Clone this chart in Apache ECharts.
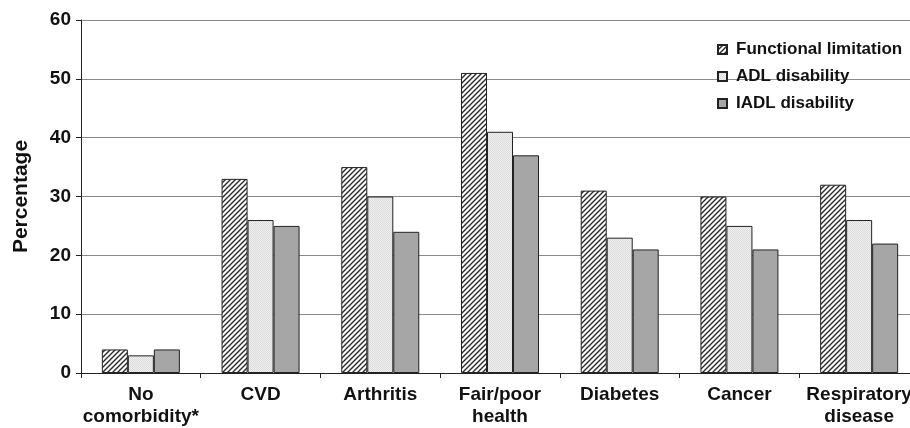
<!DOCTYPE html>
<html><head><meta charset="utf-8">
<script src="https://cdn.jsdelivr.net/npm/echarts@6/dist/echarts.min.js"></script>
<style>html,body{margin:0;padding:0;background:#fff}#c{width:910px;height:428px}</style>
</head><body><div id="c"></div>
<script>
const categories = ['No\ncomorbidity*', 'CVD', 'Arthritis', 'Fair/poor\nhealth', 'Diabetes', 'Cancer', 'Respiratory\ndisease'];
const functionalLimitation = [4, 33, 35, 51, 31, 30, 32];
const adlDisability = [3, 26, 30, 41, 23, 25, 26];
const iadlDisability = [4, 25, 24, 37, 21, 21, 22];
const seriesNames = ['Functional limitation', 'ADL disability', 'IADL disability'];

function hatch() {
  const s = 5, c = document.createElement('canvas');
  c.width = s; c.height = s;
  const g = c.getContext('2d');
  g.fillStyle = '#fff'; g.fillRect(0, 0, s, s);
  g.strokeStyle = '#2a2a2a'; g.lineWidth = 1.4;
  g.beginPath();
  g.moveTo(-1, s + 1); g.lineTo(s + 1, -1);
  g.moveTo(-1, 1); g.lineTo(1, -1);
  g.moveTo(s - 1, s + 1); g.lineTo(s + 1, s - 1);
  g.stroke();
  return c;
}
function dots() {
  const c = document.createElement('canvas');
  c.width = 2; c.height = 2;
  const g = c.getContext('2d');
  g.fillStyle = '#efefef'; g.fillRect(0, 0, 2, 2);
  g.fillStyle = '#dcdcdc'; g.fillRect(0, 0, 1, 1); g.fillRect(1, 1, 1, 1);
  return c;
}
const chart = echarts.init(document.getElementById('c'), null, {renderer: 'canvas'});
const bar = (name, data, color) => ({
  name, type: 'bar', data, barWidth: 26, barGap: '0%',
  itemStyle: {color, borderColor: '#222', borderWidth: 1}
});
chart.setOption({
  animation: false,
  backgroundColor: '#fff',
  grid: {left: 81, top: 20, height: 353, width: 838, outerBoundsMode: 'none', containLabel: false},
  legend: {
    orient: 'vertical', left: 712, top: 36, itemWidth: 9, itemHeight: 9, itemGap: 10,
    icon: 'rect',
    textStyle: {fontFamily: 'Liberation Sans, Arial', fontWeight: 'bold', fontSize: 17, color: '#111', padding: [0, 0, 0, 4]},
    data: seriesNames
  },
  xAxis: {
    type: 'category', data: categories,
    axisLine: {lineStyle: {color: '#222', width: 1}},
    axisTick: {show: true, length: 5, lineStyle: {color: '#222'}},
    axisLabel: {interval: 0, margin: 11, color: '#111', fontFamily: 'Liberation Sans, Arial', fontWeight: 'bold', fontSize: 19, lineHeight: 22}
  },
  yAxis: {
    type: 'value', min: 0, max: 60, interval: 10,
    name: 'Percentage', nameLocation: 'middle', nameGap: 49,
    nameTextStyle: {fontFamily: 'Liberation Sans, Arial', fontWeight: 'bold', fontSize: 21, color: '#111'},
    axisLine: {show: true, lineStyle: {color: '#222', width: 1}},
    axisTick: {show: true, length: 5, lineStyle: {color: '#222'}},
    axisLabel: {margin: 10, color: '#111', fontFamily: 'Liberation Sans, Arial', fontWeight: 'bold', fontSize: 19},
    splitLine: {lineStyle: {color: '#8a8a8a', width: 1}}
  },
  series: [
    bar(seriesNames[0], functionalLimitation, {image: hatch(), repeat: 'repeat'}),
    bar(seriesNames[1], adlDisability, {image: dots(), repeat: 'repeat'}),
    bar(seriesNames[2], iadlDisability, '#a6a6a6')
  ]
});
</script></body></html>
